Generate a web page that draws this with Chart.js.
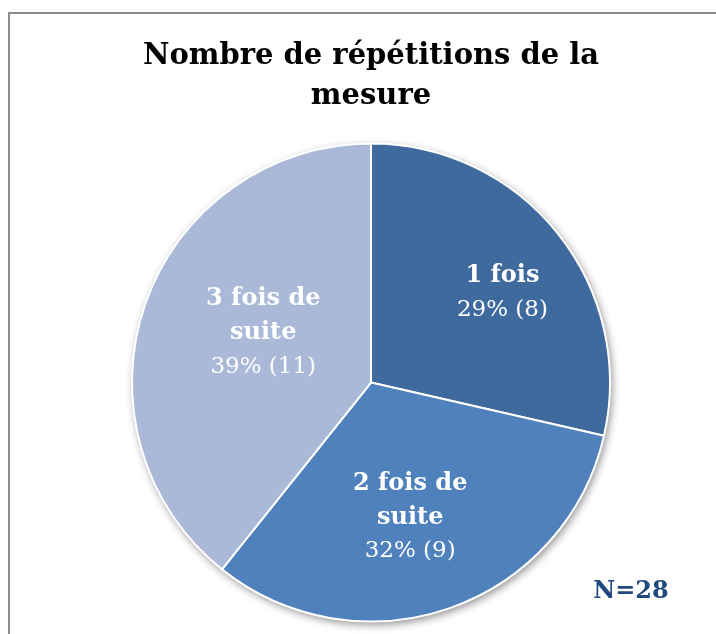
<!DOCTYPE html>
<html>
<head>
<meta charset="utf-8">
<script src="https://cdn.jsdelivr.net/npm/chart.js@4.4.1/dist/chart.umd.min.js"></script>
<style>
  body { margin: 0; background: #fff; }
  #wrap { width: 716px; height: 634px; }
</style>
</head>
<body>
<div id="wrap"><canvas id="myPieChart" width="716" height="634"></canvas></div>
<script>
  // data
  var categories = [['1 fois'], ['2 fois de', 'suite'], ['3 fois de', 'suite']];
  var counts = [8, 9, 11];
  var sliceColors = ['#3F6A9E', '#4F81BD', '#A9B9D7'];
  var total = counts.reduce(function (a, b) { return a + b; }, 0);

  // label placement: fraction of radius and angle nudge (radians)
  var labelRadius = [0.67, 0.58, 0.50];
  var labelNudge = [0.065, 0.05, 0.11];

  var serif = '"DejaVu Serif", "Liberation Serif", serif';

  // frame around the chart
  var framePlugin = {
      id: 'frame',
      beforeDraw: function (chart) {
          var c = chart.ctx;
          c.save();
          c.strokeStyle = '#8c8c8c';
          c.lineWidth = 2;
          c.strokeRect(9, 13, 800, 700);
          c.restore();
      }
  };

  // soft shadow under the pie
  var shadowPlugin = {
      id: 'pieShadow',
      beforeDatasetsDraw: function (chart) {
          var arc = chart.getDatasetMeta(0).data[0];
          var c = chart.ctx;
          c.save();
          c.shadowColor = 'rgba(0,0,0,0.45)';
          c.shadowBlur = 9;
          c.shadowOffsetX = 2;
          c.shadowOffsetY = 3;
          c.fillStyle = '#fff';
          c.beginPath();
          c.arc(arc.x, arc.y, arc.outerRadius, 0, Math.PI * 2);
          c.fill();
          c.restore();
      }
  };

  // labels inside slices + N note
  var labelPlugin = {
      id: 'sliceLabels',
      afterDatasetsDraw: function (chart) {
          var c = chart.ctx;
          var meta = chart.getDatasetMeta(0);
          c.save();
          c.fillStyle = '#fff';
          c.textAlign = 'center';
          c.textBaseline = 'middle';
          meta.data.forEach(function (arc, i) {
              var mid = (arc.startAngle + arc.endAngle) / 2 + labelNudge[i];
              var r = arc.outerRadius * labelRadius[i];
              var x = arc.x + Math.cos(mid) * r;
              var y = arc.y + Math.sin(mid) * r + 2;
              var lines = categories[i];
              var pct = Math.round(counts[i] / total * 100) + '% (' + counts[i] + ')';
              var n = lines.length + 1;
              var lh = 34;
              var y0 = y - (n - 1) * lh / 2;
              c.font = 'bold 24px ' + serif;
              lines.forEach(function (t, k) { c.fillText(t, x, y0 + k * lh); });
              c.font = '23px ' + serif;
              c.fillText(pct, x, y0 + lines.length * lh);
          });
          c.fillStyle = '#1F497D';
          c.font = 'bold 24px ' + serif;
          c.fillText('N=' + total, 631, 592);
          c.restore();
      }
  };

  var ctxPie = document.getElementById('myPieChart').getContext('2d');
  var pieChart = new Chart(ctxPie, {
      type: 'pie',
      data: {
          labels: categories.map(function (l) { return l.join(' '); }),
          datasets: [{
              data: counts,
              backgroundColor: sliceColors,
              borderColor: '#fff',
              borderWidth: 2
          }]
      },
      options: {
          responsive: false,
          animation: false,
          layout: { padding: { top: 0, bottom: 10, left: 131, right: 105 } },
          plugins: {
              legend: { display: false },
              tooltip: { enabled: false },
              title: {
                  display: true,
                  text: ['Nombre de répétitions de la', 'mesure'],
                  color: '#000',
                  font: { family: serif, size: 29, weight: 'bold', lineHeight: 1.38 },
                  padding: { top: 36, bottom: 25 }
              }
          }
      },
      plugins: [framePlugin, shadowPlugin, labelPlugin]
  });
</script>
</body>
</html>
